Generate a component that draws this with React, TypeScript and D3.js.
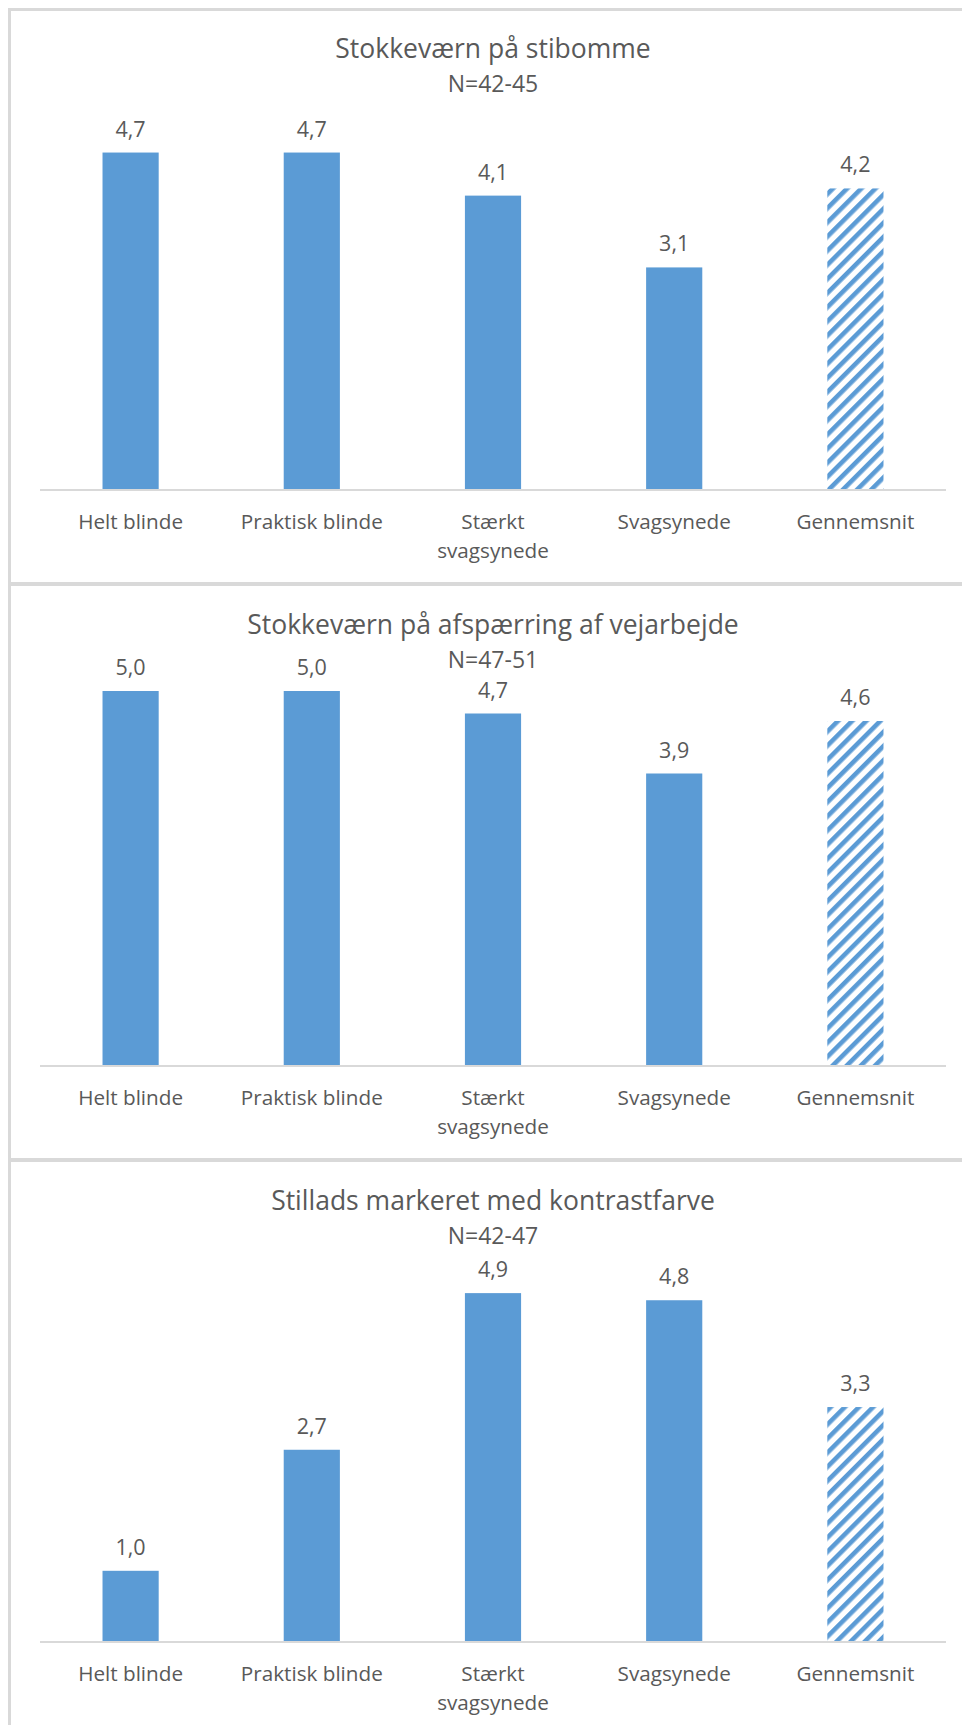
import React from "react";
import * as d3 from "d3";

// Categories shown on the x axis of every panel
const categories = ["Helt blinde", "Praktisk blinde", "Stærkt svagsynede", "Svagsynede", "Gennemsnit"];
// Wrapped tick text for each category
const categoryLines = [["Helt blinde"], ["Praktisk blinde"], ["Stærkt", "svagsynede"], ["Svagsynede"], ["Gennemsnit"]];
const averageCategory = "Gennemsnit";

// Panel headings
const panelTitles = [
  "Stokkeværn på stibomme",
  "Stokkeværn på afspærring af vejarbejde",
  "Stillads markeret med kontrastfarve",
];
const panelSampleSizes = ["N=42-45", "N=47-51", "N=42-47"];

// Mean ratings per category
const stibommeValues = [4.7, 4.7, 4.1, 3.1, 4.2];
const vejarbejdeValues = [5.0, 5.0, 4.7, 3.9, 4.6];
const stilladsValues = [1.0, 2.7, 4.9, 4.8, 3.3];

const panelValues = [stibommeValues, vejarbejdeValues, stilladsValues];

// Layout
const WIDTH = 962;
const HEIGHT = 1725;
const PANEL_TOPS = [8, 584, 1160];
const AXIS_OFFSET = 482;
const TITLE_OFFSET = 50;
const SUBTITLE_OFFSET = 84;
const PLOT_LEFT = 40;
const PLOT_RIGHT = 946;
const PX_PER_FIVE = [359, 375, 356];

const BLUE = "#5B9BD5";
const TEXT = "#595959";
const GRID = "#D9D9D9";
const FONT = "'Open Sans', 'Noto Sans', sans-serif";

const fmt = (v: number) => d3.format(".1f")(v).replace(".", ",");

function Panel({ index }: { index: number }) {
  const top = PANEL_TOPS[index];
  const axisY = top + AXIS_OFFSET;
  const values = panelValues[index];

  const x = d3
    .scaleBand<string>()
    .domain(categories)
    .range([PLOT_LEFT, PLOT_RIGHT])
    .paddingInner(0.69)
    .paddingOuter(0.345);

  const y = d3
    .scaleLinear()
    .domain([0, 5])
    .range([axisY, axisY - PX_PER_FIVE[index]]);

  const centerX = (PLOT_LEFT + PLOT_RIGHT) / 2;

  return (
    <g>
      <text
        x={centerX}
        y={top + TITLE_OFFSET}
        textAnchor="middle"
        fontFamily={FONT}
        fontSize={26.5}
        fill={TEXT}
      >
        {panelTitles[index]}
      </text>
      <text
        x={centerX}
        y={top + SUBTITLE_OFFSET}
        textAnchor="middle"
        fontFamily={FONT}
        fontSize={23}
        fill={TEXT}
      >
        {panelSampleSizes[index]}
      </text>

      {categories.map((c, i) => {
        const v = values[i];
        const bx = x(c)!;
        const bw = x.bandwidth();
        const by = y(v);
        return (
          <g key={c}>
            <rect
              x={bx}
              y={by}
              width={bw}
              height={axisY - by}
              fill={c === averageCategory ? "url(#avgHatch)" : BLUE}
            />
            <text
              x={bx + bw / 2}
              y={by - 16}
              textAnchor="middle"
              fontFamily={FONT}
              fontSize={21.5}
              fill={TEXT}
            >
              {fmt(v)}
            </text>
          </g>
        );
      })}

      <rect x={PLOT_LEFT} y={axisY - 1} width={PLOT_RIGHT - PLOT_LEFT} height={2} fill={GRID} />

      {categories.map((c, i) => (
        <text
          key={c}
          x={x(c)! + x.bandwidth() / 2}
          y={axisY + 39}
          textAnchor="middle"
          fontFamily={FONT}
          fontSize={20.7}
          fill={TEXT}
        >
          {categoryLines[i].map((line, k) => (
            <tspan key={k} x={x(c)! + x.bandwidth() / 2} dy={k === 0 ? 0 : 29}>
              {line}
            </tspan>
          ))}
        </text>
      ))}
    </g>
  );
}

export default function App() {
  return (
    <svg
      width={WIDTH}
      height={HEIGHT}
      viewBox={`0 0 ${WIDTH} ${HEIGHT}`}
      style={{ position: "absolute", left: 0, top: 0, display: "block", background: "#fff" }}
    >
      <defs>
        <pattern
          id="avgHatch"
          patternUnits="userSpaceOnUse"
          width={10}
          height={10}
          patternTransform="rotate(45)"
        >
          <rect x={0} y={0} width={10} height={10} fill="#fff" />
          <rect x={0} y={0} width={4.6} height={10} fill={BLUE} />
        </pattern>
      </defs>
      <rect x={0} y={0} width={WIDTH} height={HEIGHT} fill="#fff" />

      {/* panel frames */}
      <rect x={8} y={8} width={WIDTH - 8} height={3} fill={GRID} />
      <rect x={8} y={8} width={3} height={HEIGHT - 8} fill={GRID} />
      <rect x={8} y={582} width={WIDTH - 8} height={4} fill={GRID} />
      <rect x={8} y={1158} width={WIDTH - 8} height={4} fill={GRID} />

      {panelTitles.map((_, i) => (
        <Panel key={i} index={i} />
      ))}
    </svg>
  );
}
